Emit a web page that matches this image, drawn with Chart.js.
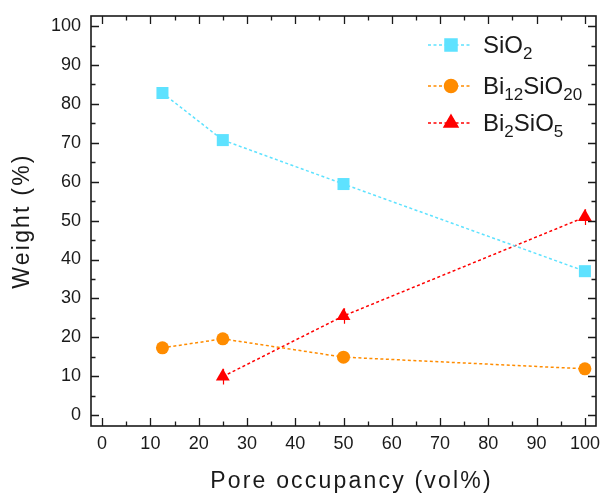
<!DOCTYPE html>
<html>
<head>
<meta charset="utf-8">
<script src="https://cdn.jsdelivr.net/npm/chart.js@4"></script>
<style>
  html, body { margin: 0; padding: 0; background: #fff; }
  #wrap { width: 605px; height: 498px; }
</style>
</head>
<body>
<div id="wrap"><canvas id="js-canvas-weight" width="605" height="498"></canvas></div>
<script>
const occupancy = [12.5, 25, 50, 100];
const sio2Weight = [82.8, 70.7, 59.4, 37.0];
const bi12Weight = [17.3, 19.6, 14.9, 11.9];
const bi2Occupancy = [25, 50, 100];
const bi2Weight = [9.9, 25.5, 50.9];
const bi2Error = [2, 2, 2];

const xTicks = [0, 10, 20, 30, 40, 50, 60, 70, 80, 90, 100];
const yTicks = [0, 10, 20, 30, 40, 50, 60, 70, 80, 90, 100];

// legend labels as [text, subscript] pieces
const legendParts = [
  [['SiO', ''], ['2', 'sub']],
  [['Bi', ''], ['12', 'sub'], ['SiO', ''], ['20', 'sub']],
  [['Bi', ''], ['2', 'sub'], ['SiO', ''], ['5', 'sub']]
];

const FONT = 'Liberation Sans, Arial, sans-serif';
const INK = '#1a1a1a';

function points(xs, ys) {
  return xs.map((x, i) => ({ x: x, y: ys[i] }));
}

// axis titles in the original are drawn with wide letter spacing
const spacedTitles = {
  id: 'spacedTitles',
  beforeDraw(chart) {
    ['x', 'y'].forEach(id => {
      const s = chart.scales[id];
      if (s._spaced) return;
      const orig = s.drawTitle.bind(s);
      s.drawTitle = function () {
        this.ctx.save();
        this.ctx.letterSpacing = '2.2px';
        if (id === 'x') this.ctx.translate(8, 0);
        orig();
        this.ctx.restore();
      };
      s._spaced = true;
    });
  }
};

// inward ticks on all four sides + frame
const frameTicks = {
  id: 'frameTicks',
  afterDraw(chart) {
    const ctx = chart.ctx;
    const a = chart.chartArea;
    const xs = chart.scales.x;
    const ys = chart.scales.y;
    ctx.save();
    ctx.strokeStyle = INK;
    ctx.lineWidth = 1.6;
    ctx.strokeRect(a.left, a.top, a.right - a.left, a.bottom - a.top);
    ctx.lineWidth = 1.3;
    ctx.beginPath();
    for (let v = 0; v <= 100; v += 5) {
      const len = v % 10 === 0 ? 8 : 4.5;
      const px = Math.round(xs.getPixelForValue(v)) + 0.5;
      ctx.moveTo(px, a.bottom); ctx.lineTo(px, a.bottom - len);
      ctx.moveTo(px, a.top); ctx.lineTo(px, a.top + len);
      const py = Math.round(ys.getPixelForValue(v)) + 0.5;
      ctx.moveTo(a.left, py); ctx.lineTo(a.left + len, py);
      ctx.moveTo(a.right, py); ctx.lineTo(a.right - len, py);
    }
    ctx.stroke();
    ctx.restore();
  }
};

// small vertical error bars on the Bi2SiO5 points
const errorBars = {
  id: 'errorBars',
  beforeDatasetDraw(chart, args) {
    if (args.index !== 2) return;
    const ctx = chart.ctx;
    const xs = chart.scales.x;
    const ys = chart.scales.y;
    ctx.save();
    ctx.strokeStyle = 'rgb(255, 0, 0)';
    ctx.lineWidth = 1.2;
    ctx.beginPath();
    bi2Occupancy.forEach((x, i) => {
      const px = Math.round(xs.getPixelForValue(x)) + 0.5;
      ctx.moveTo(px, ys.getPixelForValue(bi2Weight[i] - bi2Error[i]));
      ctx.lineTo(px, ys.getPixelForValue(bi2Weight[i] + bi2Error[i]));
    });
    ctx.stroke();
    ctx.restore();
  }
};

// legend with subscripts
const subLegend = {
  id: 'subLegend',
  afterDraw(chart) {
    const ctx = chart.ctx;
    const a = chart.chartArea;
    const x0 = a.right - 168;
    const rows = [a.top + 29, a.top + 70, a.top + 107];
    ctx.save();
    chart.data.datasets.forEach((ds, i) => {
      const y = rows[i];
      ctx.strokeStyle = ds.borderColor;
      ctx.lineWidth = 1.5;
      ctx.setLineDash([3, 2.5]);
      ctx.beginPath();
      ctx.moveTo(x0, y); ctx.lineTo(x0 + 44, y);
      ctx.stroke();
      ctx.setLineDash([]);
      Chart.helpers.drawPoint(ctx, {
        pointStyle: ds.pointStyle, radius: ds.pointRadius, borderWidth: 1
      }, x0 + 23, y);
      ctx.fillStyle = ds.backgroundColor;
      ctx.fill();
      let tx = x0 + 55;
      ctx.fillStyle = INK;
      ctx.textBaseline = 'alphabetic';
      legendParts[i].forEach(p => {
        if (p[1] === 'sub') {
          ctx.font = '17px ' + FONT;
          ctx.fillText(p[0], tx, y + 14);
        } else {
          ctx.font = '24px ' + FONT;
          ctx.fillText(p[0], tx, y + 8);
        }
        tx += ctx.measureText(p[0]).width;
      });
    });
    ctx.restore();
  }
};

new Chart(document.getElementById('js-canvas-weight'), {
  type: 'scatter',
  data: {
    datasets: [
      {
        label: 'SiO2',
        data: points(occupancy, sio2Weight),
        showLine: true,
        borderColor: 'rgb(94, 226, 255)',
        backgroundColor: 'rgb(94, 226, 255)',
        borderWidth: 1.5,
        borderDash: [3, 2.5],
        pointStyle: 'rect',
        pointRadius: 8.5,
        pointBorderWidth: 0
      },
      {
        label: 'Bi12SiO20',
        data: points(occupancy, bi12Weight),
        showLine: true,
        borderColor: 'rgb(255, 140, 0)',
        backgroundColor: 'rgb(255, 140, 0)',
        borderWidth: 1.5,
        borderDash: [3, 2.5],
        pointStyle: 'circle',
        pointRadius: 6.5,
        pointBorderWidth: 0
      },
      {
        label: 'Bi2SiO5',
        data: points(bi2Occupancy, bi2Weight),
        showLine: true,
        borderColor: 'rgb(255, 0, 0)',
        backgroundColor: 'rgb(255, 0, 0)',
        borderWidth: 1.5,
        borderDash: [3, 2.5],
        pointStyle: 'triangle',
        pointRadius: 8,
        pointBorderWidth: 0
      }
    ]
  },
  options: {
    responsive: false,
    animation: false,
    layout: { padding: { top: 16, right: 9, left: 0, bottom: 0 } },
    plugins: {
      legend: { display: false },
      tooltip: { enabled: false }
    },
    scales: {
      x: {
        type: 'linear',
        min: -2.3,
        max: 102.3,
        grid: { display: false, drawTicks: false },
        border: { display: false },
        afterBuildTicks: s => { s.ticks = xTicks.map(v => ({ value: v })); },
        afterFit: s => { s.height = 72; s.paddingLeft = 0; s.paddingRight = 0; },
        ticks: {
          padding: 7,
          color: INK,
          font: { family: FONT, size: 18 }
        },
        title: {
          display: true,
          text: 'Pore occupancy (vol%)',
          color: INK,
          font: { family: FONT, size: 23 },
          padding: { top: 0, bottom: 3 }
        }
      },
      y: {
        type: 'linear',
        min: -2.8,
        max: 102.6,
        grid: { display: false, drawTicks: false },
        border: { display: false },
        afterBuildTicks: s => { s.ticks = yTicks.map(v => ({ value: v })); },
        afterFit: s => { s.width = 91; s.paddingTop = 0; s.paddingBottom = 0; },
        ticks: {
          padding: 10,
          color: INK,
          font: { family: FONT, size: 18 }
        },
        title: {
          display: true,
          text: 'Weight (%)',
          color: INK,
          font: { family: FONT, size: 23 },
          padding: { top: 9, bottom: 0 }
        }
      }
    }
  },
  plugins: [spacedTitles, frameTicks, errorBars, subLegend]
});
</script>
</body>
</html>
